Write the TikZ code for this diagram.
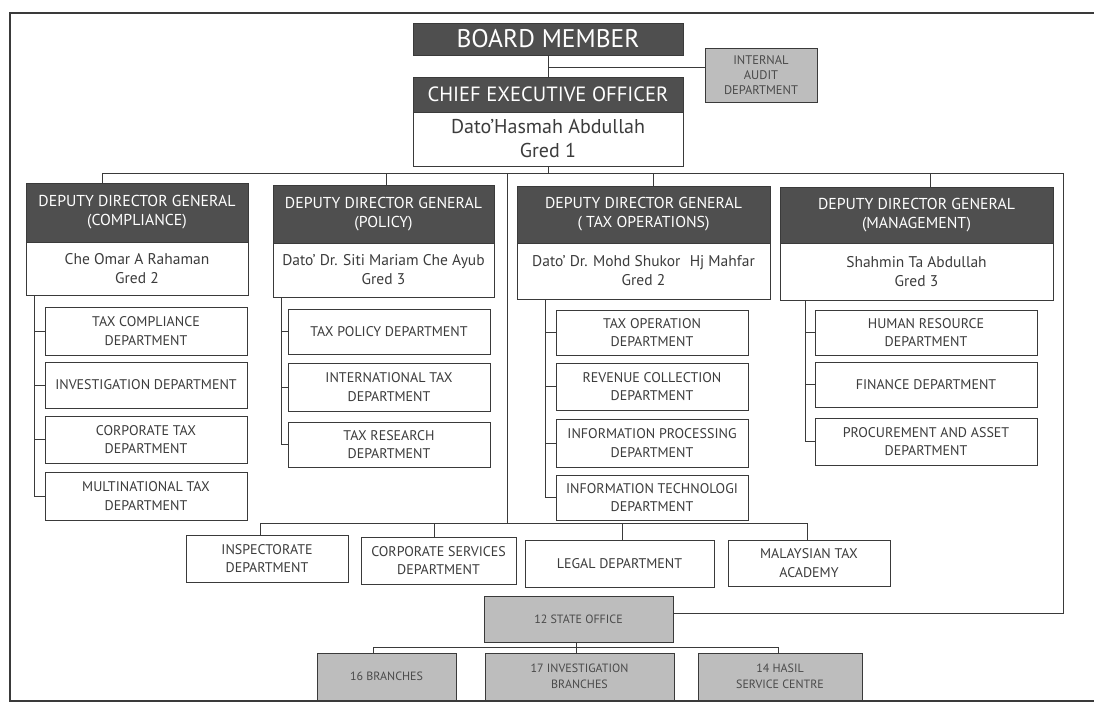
\documentclass[tikz,border=0pt]{standalone}
\usepackage{fontspec}
\setmainfont{PT Sans}
\usetikzlibrary{shadows}

\definecolor{hdrfill}{HTML}{4F4F4F}
\definecolor{greyfill}{HTML}{BDBDBD}
\definecolor{linec}{HTML}{3A3A3A}
\definecolor{txt}{HTML}{3C3C3C}
\definecolor{greytxt}{HTML}{4A4A4A}

% box placed by its corners: style, name, x1, y1, x2, y2, text
\newcommand{\orgbox}[7]{%
  \node[#1, minimum width={(#5-#3)*1pt}, minimum height={(#6-#4)*1pt}]
    (#2) at ({(#3+#5)/2},{(#4+#6)/2}) {#7};}

\tikzset{
  basebox/.style={draw=linec, line width=0.7pt, inner sep=0pt, align=center},
  hdr/.style={basebox, fill=hdrfill, text=white},
  bodybox/.style={basebox, fill=white, text=txt,
    drop shadow={shadow xshift=0.5pt, shadow yshift=-1.1pt, fill=black!70, opacity=1}},
  dept/.style={bodybox, font=\fontsize{14}{18.5}\selectfont},
  greybox/.style={basebox, fill=greyfill, text=greytxt,
    drop shadow={shadow xshift=0.5pt, shadow yshift=-1.1pt, fill=black!60, opacity=1}},
  smallgrey/.style={greybox, font=\fontsize{12}{15.5}\selectfont},
  conn/.style={draw=linec, line width=0.8pt},
  frameline/.style={draw=linec, line width=1.3pt},
  fhdr/.style={font=\fontsize{15.8}{19}\selectfont},
  fname/.style={font=\fontsize{15.5}{19}\selectfont},
}

\begin{document}
\begin{tikzpicture}[x=1pt, y=-1pt]
\useasboundingbox (0,0) rectangle (1094,704);
\fill[white] (0,0) rectangle (1094,704);

% outer frame
\draw[frameline] (1100,13) -- (10,13) -- (10,701) -- (1100,701);

% top of the hierarchy
\orgbox{hdr, font=\fontsize{25.5}{27}\selectfont}{board}{413}{23}{683}{55}{BOARD MEMBER}
\orgbox{greybox, font=\fontsize{12.5}{15}\selectfont}{audit}{705}{48}{817}{102}{INTERNAL\\AUDIT\\DEPARTMENT}
\orgbox{hdr, font=\fontsize{20.6}{22}\selectfont}{ceoh}{413}{77}{683}{112}{CHIEF EXECUTIVE OFFICER}
\orgbox{bodybox, font=\fontsize{20}{24}\selectfont}{ceob}{413}{112}{683}{166}{Dato’Hasmah Abdullah\\Gred 1}

% deputy directors general
\orgbox{hdr, fhdr}{ddg1h}{26}{183}{248}{242}{DEPUTY DIRECTOR GENERAL\\(COMPLIANCE)}
\orgbox{bodybox, fname}{ddg1b}{26}{242}{248}{295}{Che Omar A Rahaman\\Gred 2}
\orgbox{hdr, fhdr}{ddg2h}{273}{185}{494}{243}{DEPUTY DIRECTOR GENERAL\\(POLICY)}
\orgbox{bodybox, fname}{ddg2b}{273}{243}{494}{297}{Dato’ Dr. Siti Mariam Che Ayub\\Gred 3}
\orgbox{hdr, fhdr}{ddg3h}{517}{186}{770}{243}{DEPUTY DIRECTOR GENERAL\\( TAX OPERATIONS)}
\orgbox{bodybox, fname}{ddg3b}{517}{243}{770}{299}{Dato’ Dr. Mohd Shukor\hspace{0.6em}Hj Mahfar\\Gred 2}
\orgbox{hdr, fhdr}{ddg4h}{780}{187}{1053}{243}{DEPUTY DIRECTOR GENERAL\\(MANAGEMENT)}
\orgbox{bodybox, fname}{ddg4b}{780}{243}{1053}{300}{Shahmin Ta Abdullah\\Gred 3}

% compliance departments
\orgbox{dept}{tc}{45}{307}{247}{355}{TAX COMPLIANCE\\DEPARTMENT}
\orgbox{dept}{inv}{45}{362}{247}{408}{INVESTIGATION DEPARTMENT}
\orgbox{dept}{ctax}{45}{416}{247}{463}{CORPORATE TAX\\DEPARTMENT}
\orgbox{dept}{mnt}{45}{472}{247}{520}{MULTINATIONAL TAX\\DEPARTMENT}

% policy departments
\orgbox{dept}{tp}{288}{309}{490}{354}{TAX POLICY DEPARTMENT}
\orgbox{dept}{intl}{288}{363}{490}{411}{INTERNATIONAL TAX\\DEPARTMENT}
\orgbox{dept}{tr}{288}{422}{490}{467}{TAX RESEARCH\\DEPARTMENT}

% tax operations departments
\orgbox{dept}{to}{556}{310}{748}{355}{TAX OPERATION\\DEPARTMENT}
\orgbox{dept}{rc}{556}{363}{748}{410}{REVENUE COLLECTION\\DEPARTMENT}
\orgbox{dept}{ip}{556}{419}{748}{467}{INFORMATION PROCESSING\\DEPARTMENT}
\orgbox{dept}{it}{556}{475}{748}{520}{INFORMATION TECHNOLOGI\\DEPARTMENT}

% management departments
\orgbox{dept}{hr}{815}{310}{1037}{355}{HUMAN RESOURCE\\DEPARTMENT}
\orgbox{dept}{fin}{815}{362}{1037}{407}{FINANCE DEPARTMENT}
\orgbox{dept}{pa}{815}{418}{1037}{465}{PROCUREMENT AND ASSET\\DEPARTMENT}

% departments under the CEO
\orgbox{dept}{insp}{186}{535}{348}{582}{INSPECTORATE\\DEPARTMENT}
\orgbox{dept}{corp}{361}{537}{516}{584}{CORPORATE SERVICES\\DEPARTMENT}
\orgbox{dept}{legal}{525}{540}{714}{587}{LEGAL DEPARTMENT}
\orgbox{dept}{mta}{728}{540}{890}{586}{MALAYSIAN TAX\\ACADEMY}

% state and branch offices
\orgbox{smallgrey}{state}{484}{596}{673}{642}{12 STATE OFFICE}
\orgbox{smallgrey}{br}{317}{653}{456}{700}{16 BRANCHES}
\orgbox{smallgrey}{invbr}{485}{653}{674}{700}{17 INVESTIGATION\\BRANCHES}
\orgbox{smallgrey}{hasil}{698}{653}{862}{700}{14 HASIL\\SERVICE CENTRE}

% --- connectors ---
\coordinate (auditJ) at (548,67);
\draw[conn] (board.south) -- (ceoh.north);
\draw[conn] (auditJ) -- (auditJ -| audit.west);

\coordinate (busL) at (102,173);
\coordinate (busR) at (1063,173);
\coordinate (turnR) at (1063,613);
\draw[conn] (ceob.south) -- (ceob.south |- busL);
\draw[conn] (busL |- ddg1h.north) -- (busL) -- (busR) -- (turnR) -- (turnR -| state.east);
\coordinate (d2) at (386,173);
\coordinate (d3) at (653,173);
\coordinate (d4) at (930,173);
\draw[conn] (d2) -- (d2 |- ddg2h.north);
\draw[conn] (d3) -- (d3 |- ddg3h.north);
\draw[conn] (d4) -- (d4 |- ddg4h.north);

% department spines
\coordinate (s1) at (34,0);
\coordinate (s2) at (281,0);
\coordinate (s3) at (545,0);
\coordinate (s4) at (805,0);
\draw[conn] (ddg1b.south -| s1) -- (s1 |- mnt.west) -- (mnt.west);
\foreach \n in {tc,inv,ctax} \draw[conn] (s1 |- \n.west) -- (\n.west);
\draw[conn] (ddg2b.south -| s2) -- (s2 |- tr.west) -- (tr.west);
\foreach \n in {tp,intl} \draw[conn] (s2 |- \n.west) -- (\n.west);
\draw[conn] (ddg3b.south -| s3) -- (s3 |- it.west) -- (it.west);
\foreach \n in {to,rc,ip} \draw[conn] (s3 |- \n.west) -- (\n.west);
\draw[conn] (ddg4b.south -| s4) -- (s4 |- pa.west) -- (pa.west);
\foreach \n in {hr,fin} \draw[conn] (s4 |- \n.west) -- (\n.west);

% lower bus
\coordinate (midT) at (507,173);
\coordinate (lowJ) at (507,523);
\coordinate (lowL) at (260,523);
\coordinate (lowR) at (807,523);
\coordinate (l2) at (434,523);
\coordinate (l3) at (622,523);
\draw[conn] (midT) -- (lowJ);
\draw[conn] (lowL |- insp.north) -- (lowL) -- (lowR) -- (lowR |- mta.north);
\draw[conn] (l2) -- (l2 |- corp.north);
\draw[conn] (l3) -- (l3 |- legal.north);

% branch bus
\coordinate (sbL) at (373,647);
\coordinate (sbR) at (778,647);
\coordinate (sbM) at (576,647);
\draw[conn] (sbM |- state.south) -- (sbM);
\draw[conn] (sbL |- br.north) -- (sbL) -- (sbR) -- (sbR |- hasil.north);
\draw[conn] (sbM) -- (sbM |- invbr.north);
\end{tikzpicture}
\end{document}
